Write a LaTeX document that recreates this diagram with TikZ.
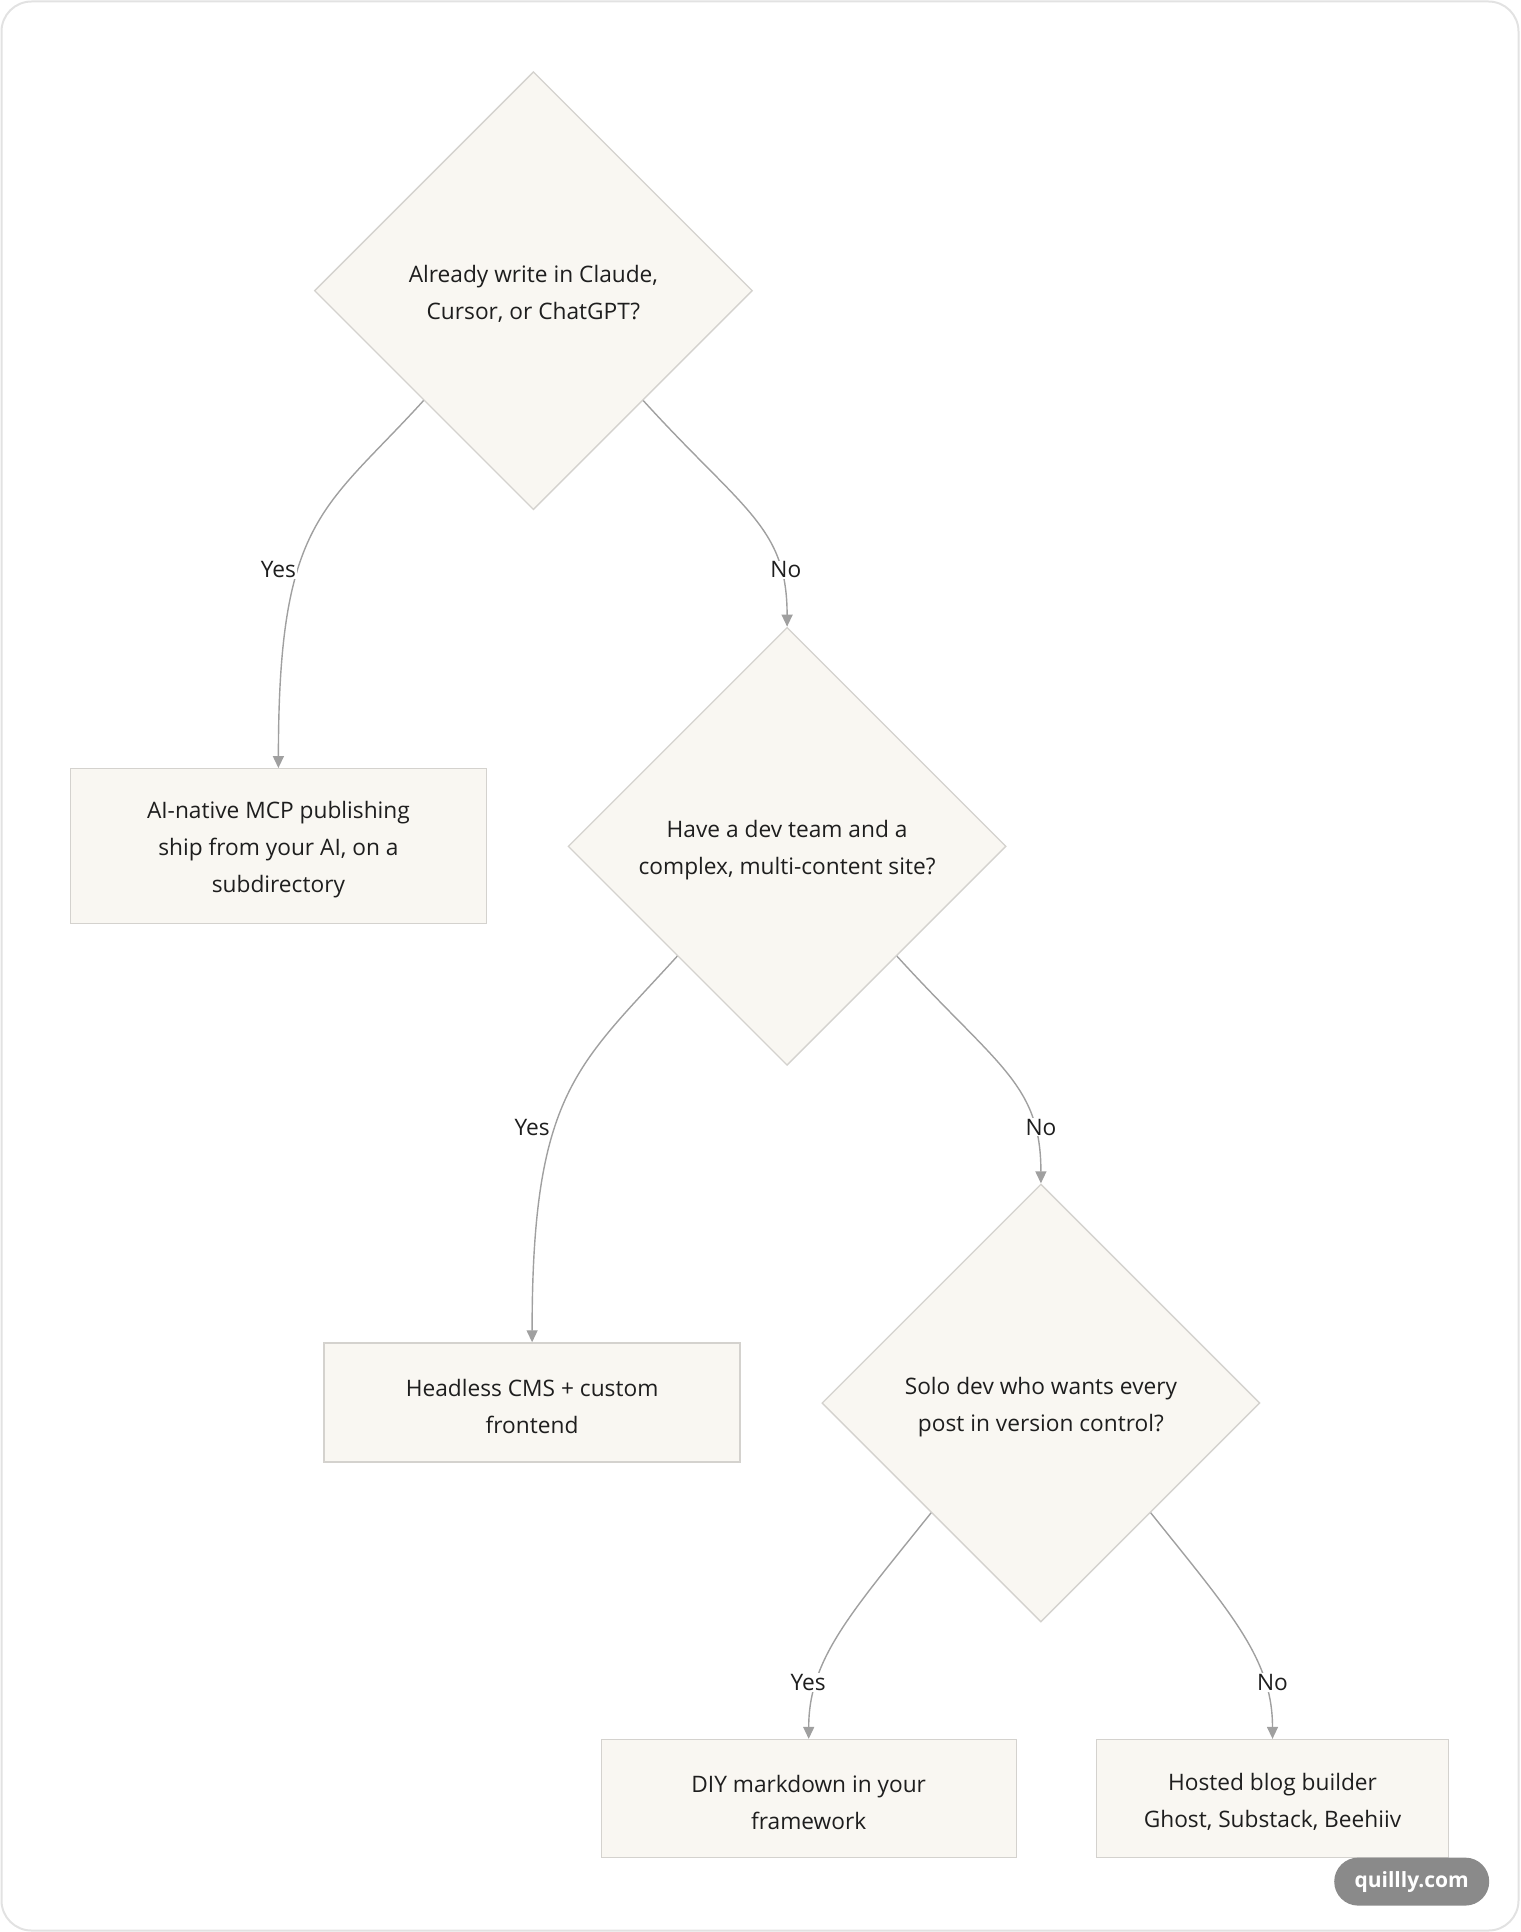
\documentclass[tikz,border=0pt]{standalone}
\usepackage{fontspec}
\setmainfont{Open Sans}
\usetikzlibrary{shapes.geometric,arrows.meta}
\definecolor{nodefill}{RGB}{249,247,242}
\definecolor{nodeline}{RGB}{212,210,206}
\definecolor{edgeline}{RGB}{160,160,160}
\definecolor{inktext}{RGB}{30,30,30}
\definecolor{framegray}{RGB}{226,226,226}
\definecolor{badgegray}{RGB}{138,138,138}
\newcommand{\flowfont}{\fontsize{22.7}{37}\selectfont}
\newcommand{\toppad}{\rule{0pt}{24.5pt}}
\begin{document}
\begin{tikzpicture}[x=1pt, y=-1pt,
  decision/.style={diamond, draw=nodeline, line width=1.3pt, fill=nodefill,
    minimum width=438pt, minimum height=438pt, inner sep=0pt, align=center,
    text=inktext, font=\flowfont},
  outcome/.style={rectangle, draw=nodeline, line width=1.3pt, fill=nodefill,
    minimum width=416pt, align=center, text=inktext, font=\flowfont},
  edge/.style={draw=edgeline, line width=1.4pt, -{Triangle[width=11pt,length=12pt]}},
  lbl/.style={fill=white, inner sep=1pt, text=inktext, font=\flowfont},
  badge/.style={fill=badgegray, rounded corners=24pt, minimum width=155pt,
    minimum height=48pt, text=white, font=\fontsize{21}{25}\selectfont\bfseries}]
  \useasboundingbox (0,0) rectangle (1520,1932);
  \draw[framegray, line width=2pt, rounded corners=30pt] (1.5,1.5) rectangle (1518.5,1930.5);

  % decisions
  \node[decision] (d1) at (533.4,290.7) {\toppad Already write in Claude,\\Cursor, or ChatGPT?};
  \node[decision] (d2) at (787.1,846.3) {\toppad Have a dev team and a\\complex, multi-content site?};
  \node[decision] (d3) at (1040.9,1403) {\toppad Solo dev who wants every\\post in version control?};

  % outcomes
  \node[outcome, minimum height=155pt] (ai) at (278.4,846.2) {\toppad AI-native MCP publishing\\ship from your AI, on a\\subdirectory};
  \node[outcome, minimum height=119pt] (cms) at (532.1,1402.4) {\toppad Headless CMS + custom\\frontend};
  \node[outcome, minimum height=118pt, minimum width=415pt] (diy) at (808.7,1798.5) {\toppad DIY markdown in your\\framework};
  \node[outcome, minimum height=118pt, minimum width=352pt] (hosted) at (1272.5,1798.5) {\toppad Hosted blog builder\\Ghost, Substack, Beehiiv};

  % connectors
  \draw[edge] (d1.south west) .. controls +(-100,110) and +(0,-250) .. (ai.north);
  \draw[edge] (d1.south east) .. controls +(100,110) and +(0,-100) .. (d2.north);
  \draw[edge] (d2.south west) .. controls +(-100,110) and +(0,-250) .. (cms.north);
  \draw[edge] (d2.south east) .. controls +(100,110) and +(0,-100) .. (d3.north);
  \draw[edge] (d3.south west) .. controls +(-80,100) and +(0,-80) .. (diy.north);
  \draw[edge] (d3.south east) .. controls +(80,100) and +(0,-80) .. (hosted.north);

  \node[lbl] (yes1) at (278.4,570) {Yes};
  \node[lbl] (no1) at (785.9,570) {No};
  \node[lbl] (yes2) at (532.1,1127) {Yes};
  \node[lbl] (no2) at (1040.9,1127) {No};
  \node[lbl] (yes3) at (808.1,1682.4) {Yes};
  \node[lbl] (no3) at (1272.4,1682.4) {No};

  \node[badge] (brand) at (1411.7,1881.6) {quillly.com};
\end{tikzpicture}
\end{document}
